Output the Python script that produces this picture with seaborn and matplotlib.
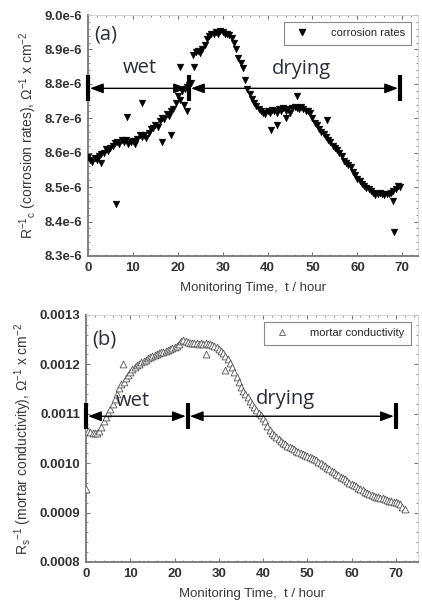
import numpy as np
import pandas as pd
import matplotlib
matplotlib.use("Agg")
import matplotlib.pyplot as plt
import seaborn as sns
from matplotlib.ticker import AutoMinorLocator, FormatStrFormatter, FuncFormatter
from matplotlib.lines import Line2D

# ---- panel (a): corrosion rates, 1/Rc  (values in 1e-6 ohm^-1 cm^-2)
time_a = [0, 0.5, 1, 1.5, 2, 2.5, 3, 3.5, 4, 4.5, 5, 5.5, 6, 6.5, 7, 7.5, 8, 8.5, 9, 9.5,
          10, 10.5, 11, 11.5, 12, 12.5, 13, 13.5, 14, 14.5, 15, 15.5, 16, 16.5, 17, 17.5, 18, 18.5, 19, 19.5,
          20, 20.5, 21, 21.5, 22, 22.5, 23, 23.5, 24, 24.5, 25, 25.5, 26, 26.5, 27, 27.5, 28, 28.5, 29, 29.5,
          30, 30.5, 31, 31.5, 32, 32.5, 33, 33.5, 34, 34.5, 35, 35.5, 36, 36.5, 37, 37.5, 38, 38.5, 39, 39.5,
          40, 40.5, 41, 41.5, 42, 42.5, 43, 43.5, 44, 44.5, 45, 45.5, 46, 46.5, 47, 47.5, 48, 48.5, 49, 49.5,
          50, 50.5, 51, 51.5, 52, 52.5, 53, 53.5, 54, 54.5, 55, 55.5, 56, 56.5, 57, 57.5, 58, 58.5, 59, 59.5,
          60, 60.5, 61, 61.5, 62, 62.5, 63, 63.5, 64, 64.5, 65, 65.5, 66, 66.5, 67, 67.5, 68, 68.5, 69, 69.5]
rate_a = [8.588, 8.580, 8.572, 8.585, 8.578, 8.590, 8.596, 8.600, 8.610, 8.604, 8.615, 8.620, 8.628, 8.632, 8.626, 8.636, 8.632, 8.636, 8.626, 8.630,
          8.634, 8.626, 8.640, 8.650, 8.646, 8.652, 8.642, 8.658, 8.668, 8.672, 8.680, 8.676, 8.692, 8.702, 8.698, 8.712, 8.708, 8.722, 8.728, 8.745,
          8.765, 8.752, 8.778, 8.785, 8.790, 8.798, 8.802, 8.885, 8.892, 8.896, 8.890, 8.902, 8.912, 8.930, 8.938, 8.944, 8.946, 8.950, 8.944, 8.953,
          8.950, 8.946, 8.944, 8.942, 8.934, 8.918, 8.900, 8.876, 8.860, 8.845, 8.812, 8.786, 8.770, 8.756, 8.745, 8.735, 8.726, 8.720, 8.716, 8.712,
          8.720, 8.714, 8.724, 8.720, 8.714, 8.726, 8.720, 8.730, 8.720, 8.726, 8.716, 8.730, 8.734, 8.730, 8.726, 8.732, 8.726, 8.722, 8.720, 8.714,
          8.700, 8.686, 8.680, 8.670, 8.660, 8.654, 8.645, 8.638, 8.630, 8.620, 8.614, 8.608, 8.600, 8.590, 8.576, 8.570, 8.565, 8.558, 8.545, 8.535,
          8.525, 8.518, 8.510, 8.504, 8.498, 8.494, 8.490, 8.484, 8.476, 8.480, 8.484, 8.480, 8.476, 8.480, 8.480, 8.484, 8.488, 8.494, 8.504, 8.500]
# scattered single readings off the main trend
time_a_out = [3.0, 6.3, 8.8, 12.1, 16.5, 18.6, 20.4, 21.3, 22.1, 23.7, 40.7, 42.0, 44.0, 46.6, 53.3, 68.0, 68.2]
rate_a_out = [8.570, 8.450, 8.705, 8.745, 8.630, 8.650, 8.850, 8.740, 8.720, 8.850, 8.665, 8.680, 8.700, 8.765, 8.695, 8.460, 8.370]

# ---- panel (b): mortar conductivity, 1/Rs  (values in 1e-4 ohm^-1 cm^-2)
time_b = [0, 0.5, 1, 1.5, 2, 2.5, 3, 3.5, 4, 4.5, 5, 5.5, 6, 6.5, 7, 7.5, 8, 8.5, 9, 9.5,
          10, 10.5, 11, 11.5, 12, 12.5, 13, 13.5, 14, 14.5, 15, 15.5, 16, 16.5, 17, 17.5, 18, 18.5, 19, 19.5,
          20, 20.5, 21, 21.5, 22, 22.5, 23, 23.5, 24, 24.5, 25, 25.5, 26, 26.5, 27, 27.5, 28, 28.5, 29, 29.5,
          30, 30.5, 31, 31.5, 32, 32.5, 33, 33.5, 34, 34.5, 35, 35.5, 36, 36.5, 37, 37.5, 38, 38.5, 39, 39.5,
          40, 40.5, 41, 41.5, 42, 42.5, 43, 43.5, 44, 44.5, 45, 45.5, 46, 46.5, 47, 47.5, 48, 48.5, 49, 49.5,
          50, 50.5, 51, 51.5, 52, 52.5, 53, 53.5, 54, 54.5, 55, 55.5, 56, 56.5, 57, 57.5, 58, 58.5, 59, 59.5,
          60, 60.5, 61, 61.5, 62, 62.5, 63, 63.5, 64, 64.5, 65, 65.5, 66, 66.5, 67, 67.5, 68, 68.5, 69, 69.5,
          70, 70.5, 71, 71.5, 72]
cond_b = [10.70, 10.66, 10.64, 10.62, 10.61, 10.62, 10.66, 10.74, 10.85, 10.93, 11.02, 11.10, 11.20, 11.30, 11.40, 11.52, 11.60, 11.65, 11.73, 11.78,
          11.85, 11.90, 11.94, 11.98, 12.00, 12.04, 12.07, 12.09, 12.12, 12.14, 12.16, 12.18, 12.20, 12.22, 12.24, 12.25, 12.27, 12.29, 12.31, 12.33,
          12.36, 12.38, 12.42, 12.48, 12.50, 12.47, 12.45, 12.44, 12.44, 12.43, 12.43, 12.42, 12.43, 12.42, 12.43, 12.42, 12.42, 12.40, 12.38, 12.36,
          12.32, 12.28, 12.22, 12.16, 12.10, 12.02, 11.95, 11.85, 11.75, 11.65, 11.55, 11.47, 11.40, 11.33, 11.26, 11.20, 11.14, 11.08, 11.02, 10.97,
          10.92, 10.85, 10.76, 10.68, 10.62, 10.57, 10.52, 10.48, 10.44, 10.41, 10.38, 10.35, 10.32, 10.30, 10.28, 10.25, 10.23, 10.21, 10.19, 10.17,
          10.15, 10.13, 10.10, 10.08, 10.06, 10.03, 10.00, 9.97, 9.94, 9.91, 9.88, 9.85, 9.82, 9.79, 9.76, 9.73, 9.70, 9.67, 9.63, 9.60,
          9.57, 9.55, 9.53, 9.50, 9.47, 9.45, 9.41, 9.39, 9.37, 9.35, 9.34, 9.32, 9.31, 9.30, 9.29, 9.28, 9.26, 9.24, 9.23, 9.22,
          9.21, 9.20, 9.17, 9.12, 9.08]
time_b_out = [0.0, 8.3, 27.2, 31.4]
cond_b_out = [9.48, 12.00, 12.20, 11.88]

# wet / drying periods (hours) and the arrow heights
stops_a = [0, 22.5, 69.5]
stops_b = [0, 23, 70]
arrow_y_a = 8.787e-6
arrow_y_b = 0.001095

df_a = pd.DataFrame({"t": time_a + time_a_out,
                     "r": np.array(rate_a + rate_a_out) * 1e-6})
df_b = pd.DataFrame({"t": time_b + time_b_out,
                     "r": np.array(cond_b + cond_b_out) * 1e-4})

sns.set_style("ticks")
plt.rcParams["font.family"] = ["Liberation Sans", "DejaVu Sans"]
plt.rcParams["mathtext.fontset"] = "custom"
plt.rcParams["mathtext.rm"] = "Liberation Sans"
plt.rcParams["mathtext.it"] = "Liberation Sans:italic"
tick_col = "#3a3a3a"
note_font = ["Open Sans", "DejaVu Sans"]
note_col = "#2b2d3c"

fig = plt.figure(figsize=(4.22, 6.08), dpi=100)
ax1 = fig.add_axes([0.2085, 0.579, 0.782, 0.3963])
ax2 = fig.add_axes([0.2038, 0.0757, 0.7867, 0.4063])


def style_axis(ax):
    for s in ["left", "bottom"]:
        ax.spines[s].set_color("#808080")
        ax.spines[s].set_linewidth(1.4)
    for s in ["top", "right"]:
        ax.spines[s].set_visible(True)
        ax.spines[s].set_color("#d0d0d0")
        ax.spines[s].set_linewidth(0.6)
    ax.xaxis.set_minor_locator(AutoMinorLocator(5))
    ax.yaxis.set_minor_locator(AutoMinorLocator(5))
    ax.tick_params(which="both", direction="in", top=True, right=True,
                   color="#777777", labelcolor="#333333", labelsize=9.5)
    ax.tick_params(which="major", length=3, width=0.8, pad=4)
    ax.tick_params(which="minor", length=1.6, width=0.6)
    for lab in ax.get_xticklabels() + ax.get_yticklabels():
        lab.set_fontweight("bold")
    ax.set_xlabel("Monitoring Time,  t / hour", fontsize=9.5, color=tick_col, labelpad=6)


def period_arrows(ax, stops, y):
    for x0, x1 in zip(stops[:-1], stops[1:]):
        ax.annotate("", xy=(x0, y), xytext=(x1, y),
                    arrowprops=dict(arrowstyle="<|-|>,head_length=0.8,head_width=0.3",
                                    color="black", lw=1.0, shrinkA=1.5, shrinkB=1.5))
    ax.plot(stops, [y] * len(stops), linestyle="none", marker="|",
            markersize=19, markeredgewidth=3, color="black", clip_on=False, zorder=5)


# ---- (a)
sns.scatterplot(data=df_a, x="t", y="r", ax=ax1, marker="v", s=24,
                color="black", edgecolor="black", linewidth=0.3, legend=False, zorder=3)
ax1.set_xlim(0, 73.5)
ax1.set_ylim(8.3e-6, 9.0e-6)
ax1.set_yticks([8.3e-6, 8.4e-6, 8.5e-6, 8.6e-6, 8.7e-6, 8.8e-6, 8.9e-6, 9.0e-6])
ax1.yaxis.set_major_formatter(FuncFormatter(lambda v, p: "%.1fe-6" % (v * 1e6)))
style_axis(ax1)
ax1.set_ylabel(r"R$^{-1}$$_{\rm c}$ (corrosion rates), $\Omega^{-1}$ x cm$^{-2}$",
               fontsize=10, color=tick_col, labelpad=4)
period_arrows(ax1, stops_a, arrow_y_a)
ax1.text(11.5, 8.833e-6, "wet", fontsize=14.5, family=note_font, color=note_col, ha="center")
ax1.text(47.5, 8.828e-6, "drying", fontsize=14.5, family=note_font, color=note_col, ha="center")
ax1.text(1.5, 8.943e-6, "(a)", fontsize=14.5, family=note_font, color=note_col, va="center")
h1 = [Line2D([], [], linestyle="none", marker="v", color="black", markersize=4.5)]
lg1 = ax1.legend(h1, ["corrosion rates"], loc="upper right", fontsize=8,
                 frameon=True, fancybox=False, edgecolor="#8a8a8a", framealpha=1,
                 borderaxespad=0.6, handletextpad=1.6, borderpad=0.6)
lg1.get_frame().set_linewidth(0.8)

# ---- (b)
sns.scatterplot(data=df_b, x="t", y="r", ax=ax2, marker="^", s=24,
                facecolor="white", edgecolor="#555555", linewidth=0.6, legend=False, zorder=3)
ax2.set_xlim(0, 75)
ax2.set_ylim(0.0008, 0.0013)
ax2.set_yticks([0.0008, 0.0009, 0.0010, 0.0011, 0.0012, 0.0013])
ax2.yaxis.set_major_formatter(FormatStrFormatter("%.4f"))
style_axis(ax2)
ax2.set_ylabel(r"R$_{\rm s}$$^{-1}$ (mortar conductivity), $\Omega^{-1}$ x cm$^{-2}$",
               fontsize=10, color=tick_col, labelpad=4)
period_arrows(ax2, stops_b, arrow_y_b)
ax2.text(10.5, 0.001115, "wet", fontsize=14.5, family=note_font, color=note_col, ha="center")
ax2.text(45, 0.00112, "drying", fontsize=14.5, family=note_font, color=note_col, ha="center")
ax2.text(1.5, 0.00125, "(b)", fontsize=14.5, family=note_font, color=note_col, va="center")
h2 = [Line2D([], [], linestyle="none", marker="^", markerfacecolor="white",
             markeredgecolor="#555555", markersize=4.5, markeredgewidth=0.6)]
lg2 = ax2.legend(h2, ["mortar conductivity"], loc="upper right", fontsize=8,
                 frameon=True, fancybox=False, edgecolor="#8a8a8a", framealpha=1,
                 borderaxespad=0.6, handletextpad=1.6, borderpad=0.6)
lg2.get_frame().set_linewidth(0.8)

fig.savefig("out.png", dpi=100)
